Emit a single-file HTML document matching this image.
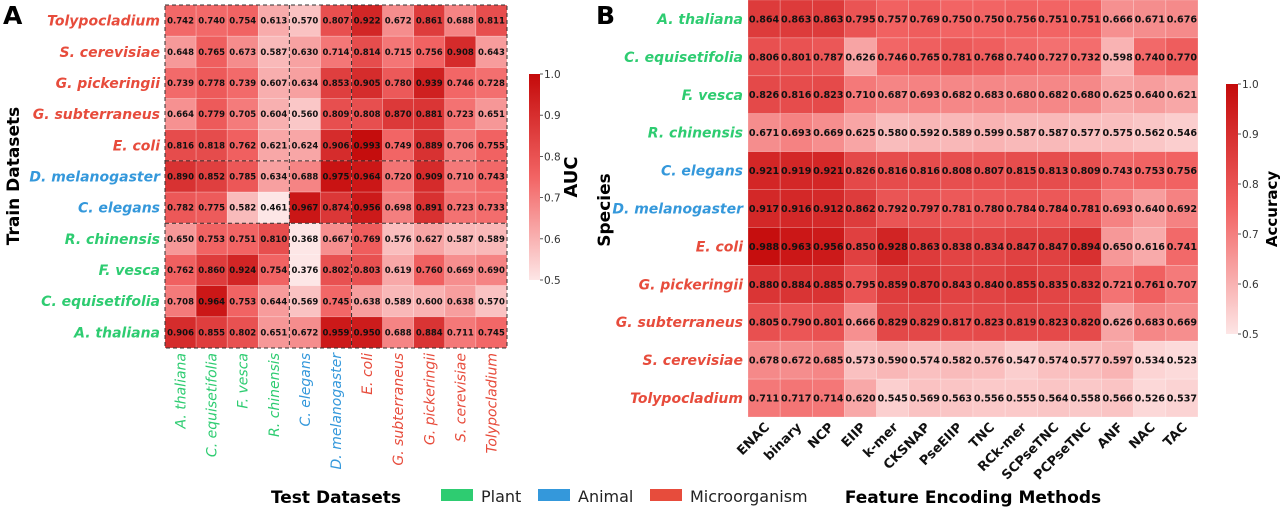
<!DOCTYPE html>
<html><head><meta charset="utf-8">
<style>
html,body{margin:0;padding:0;background:#fff;}
svg{display:block;font-family:"DejaVu Sans","Liberation Sans",sans-serif;}
</style></head>
<body>
<svg id="fig" width="1280" height="507" viewBox="0 0 1280 507" xmlns="http://www.w3.org/2000/svg">
<defs>
<linearGradient id="cmap" x1="0" y1="1" x2="0" y2="0">
<stop offset="0" stop-color="#fde6e6"/>
<stop offset="0.5" stop-color="#f26464"/>
<stop offset="1" stop-color="#c40a0a"/>
</linearGradient>
</defs>
<g id="gA"></g>
<g id="gB"></g>
<text x="3" y="24" font-size="25" font-weight="bold">A</text>
<text x="596" y="24" font-size="25" font-weight="bold">B</text>
<text transform="translate(19,176) rotate(-90)" text-anchor="middle" font-size="17" font-weight="bold">Train Datasets</text>
<text transform="translate(610,210) rotate(-90)" text-anchor="middle" font-size="17" font-weight="bold">Species</text>
<text x="336" y="503" text-anchor="middle" font-size="17" font-weight="bold">Test Datasets</text>
<text x="973" y="503" text-anchor="middle" font-size="17" font-weight="bold">Feature Encoding Methods</text>
<g>
<rect x="441" y="489" width="32" height="12" fill="#2ecc71"/>
<text x="481" y="502" font-size="16" fill="#222">Plant</text>
<rect x="538" y="489" width="32" height="12" fill="#3498db"/>
<text x="578" y="502" font-size="16" fill="#222">Animal</text>
<rect x="650" y="489" width="32" height="12" fill="#e74c3c"/>
<text x="690" y="502" font-size="16" fill="#222">Microorganism</text>
</g>
</svg>
<script>
const rowsA = ["Tolypocladium","S. cerevisiae","G. pickeringii","G. subterraneus","E. coli","D. melanogaster","C. elegans","R. chinensis","F. vesca","C. equisetifolia","A. thaliana"];
const rowGroupA = ["m","m","m","m","m","a","a","p","p","p","p"];
const colsA = ["A. thaliana","C. equisetifolia","F. vesca","R. chinensis","C. elegans","D. melanogaster","E. coli","G. subterraneus","G. pickeringii","S. cerevisiae","Tolypocladium"];
const colGroupA = ["p","p","p","p","a","a","m","m","m","m","m"];
const valuesA = [
[0.742,0.740,0.754,0.613,0.570,0.807,0.922,0.672,0.861,0.688,0.811],
[0.648,0.765,0.673,0.587,0.630,0.714,0.814,0.715,0.756,0.908,0.643],
[0.739,0.778,0.739,0.607,0.634,0.853,0.905,0.780,0.939,0.746,0.728],
[0.664,0.779,0.705,0.604,0.560,0.809,0.808,0.870,0.881,0.723,0.651],
[0.816,0.818,0.762,0.621,0.624,0.906,0.993,0.749,0.889,0.706,0.755],
[0.890,0.852,0.785,0.634,0.688,0.975,0.964,0.720,0.909,0.710,0.743],
[0.782,0.775,0.582,0.461,0.967,0.874,0.956,0.698,0.891,0.723,0.733],
[0.650,0.753,0.751,0.810,0.368,0.667,0.769,0.576,0.627,0.587,0.589],
[0.762,0.860,0.924,0.754,0.376,0.802,0.803,0.619,0.760,0.669,0.690],
[0.708,0.964,0.753,0.644,0.569,0.745,0.638,0.589,0.600,0.638,0.570],
[0.906,0.855,0.802,0.651,0.672,0.959,0.950,0.688,0.884,0.711,0.745]];
const rowsB = ["A. thaliana","C. equisetifolia","F. vesca","R. chinensis","C. elegans","D. melanogaster","E. coli","G. pickeringii","G. subterraneus","S. cerevisiae","Tolypocladium"];
const rowGroupB = ["p","p","p","p","a","a","m","m","m","m","m"];
const colsB = ["ENAC","binary","NCP","EIIP","k-mer","CKSNAP","PseEIIP","TNC","RCk-mer","SCPseTNC","PCPseTNC","ANF","NAC","TAC"];
const valuesB = [
[0.864,0.863,0.863,0.795,0.757,0.769,0.750,0.750,0.756,0.751,0.751,0.666,0.671,0.676],
[0.806,0.801,0.787,0.626,0.746,0.765,0.781,0.768,0.740,0.727,0.732,0.598,0.740,0.770],
[0.826,0.816,0.823,0.710,0.687,0.693,0.682,0.683,0.680,0.682,0.680,0.625,0.640,0.621],
[0.671,0.693,0.669,0.625,0.580,0.592,0.589,0.599,0.587,0.587,0.577,0.575,0.562,0.546],
[0.921,0.919,0.921,0.826,0.816,0.816,0.808,0.807,0.815,0.813,0.809,0.743,0.753,0.756],
[0.917,0.916,0.912,0.862,0.792,0.797,0.781,0.780,0.784,0.784,0.781,0.693,0.640,0.692],
[0.988,0.963,0.956,0.850,0.928,0.863,0.838,0.834,0.847,0.847,0.894,0.650,0.616,0.741],
[0.880,0.884,0.885,0.795,0.859,0.870,0.843,0.840,0.855,0.835,0.832,0.721,0.761,0.707],
[0.805,0.790,0.801,0.666,0.829,0.829,0.817,0.823,0.819,0.823,0.820,0.626,0.683,0.669],
[0.678,0.672,0.685,0.573,0.590,0.574,0.582,0.576,0.547,0.574,0.577,0.597,0.534,0.523],
[0.711,0.717,0.714,0.620,0.545,0.569,0.563,0.556,0.555,0.564,0.558,0.566,0.526,0.537]];
const cbarTicks = [0.5,0.6,0.7,0.8,0.9,1.0];

const NS="http://www.w3.org/2000/svg";
const gcol={p:"#2ecc71",a:"#3498db",m:"#e74c3c"};
function mk(tag,attrs,parent){const e=document.createElementNS(NS,tag);for(const k in attrs)e.setAttribute(k,attrs[k]);parent.appendChild(e);return e;}
function lerp(a,b,t){return Math.round(a+(b-a)*t);}
function color(v){
  let t=Math.max(0,Math.min(1,(v-0.5)/0.5));
  const s=[[253,230,230],[242,100,100],[196,10,10]];
  let a,b,u; if(t<0.5){a=s[0];b=s[1];u=t/0.5;}else{a=s[1];b=s[2];u=(t-0.5)/0.5;}
  return `rgb(${lerp(a[0],b[0],u)},${lerp(a[1],b[1],u)},${lerp(a[2],b[2],u)})`;
}
function heat(g,cfg){
  const {x0,y0,w,h,rows,cols,vals,fs,rgrp}=cfg;
  const cw=w/cols.length, rh=h/rows.length;
  const xs=i=>x0+i*cw, ys=j=>y0+j*rh;
  rows.forEach((r,j)=>{
    cols.forEach((c,i)=>{
      const v=vals[j][i];
      const rc=mk('rect',{x:xs(i),y:ys(j),width:cw,height:rh,fill:color(v),stroke:'rgba(255,255,255,0.35)','stroke-width':0.6},g);
      
      
      const t=mk('text',{x:xs(i)+cw/2,y:ys(j)+rh/2+fs*0.36,'text-anchor':'middle','font-size':fs,'font-weight':'bold',fill:'#111'},g);
      t.textContent=v.toFixed(3);
      
      
    });
    const lt=mk('text',{x:x0-5,y:ys(j)+rh/2+5,'text-anchor':'end','font-size':14,'font-weight':'bold','font-style':'italic',fill:gcol[rgrp[j]]},g);
    lt.textContent=r;
    
    
  });
  return {xs,ys,cw,rh};
}
function cbar(g,x,y,w,h,title,tx,fs){
  const r=mk('rect',{x:x,y:y,width:w,height:h,fill:'url(#cmap)'},g);
  
  
  cbarTicks.forEach(v=>{
    const yy=y+h-(v-0.5)/0.5*h;
    mk('line',{x1:x+w,x2:x+w+3,y1:yy,y2:yy,stroke:'#333','stroke-width':0.8},g);
    const t=mk('text',{x:x+w+4,y:yy+4,'font-size':10.5,fill:'#333'},g);
    t.textContent=v.toFixed(1);
    
    
  });
  const tt=mk('text',{transform:`translate(${tx},${y+h/2}) rotate(-90)`,'text-anchor':'middle','font-size':fs,'font-weight':'bold'},g);
  tt.textContent=title;
  
  
}
// Panel A
const gA=document.getElementById('gA');
const A=heat(gA,{x0:165,y0:5,w:342,h:343,rows:rowsA,cols:colsA,vals:valuesA,fs:8.5,rgrp:rowGroupA});
colsA.forEach((c,i)=>{
  const cx=A.xs(i)+A.cw/2+5;
  const t=mk('text',{transform:`translate(${cx},353) rotate(-90)`,'text-anchor':'end','font-size':14,'font-style':'italic',fill:gcol[colGroupA[i]]},gA);
  t.textContent=c;
  
  
});
const dash={stroke:'#333','stroke-width':1,'stroke-dasharray':'4,3',fill:'none'};
mk('rect',Object.assign({x:165,y:5,width:342,height:343},dash),gA);
[4,6].forEach(i=>mk('line',Object.assign({x1:A.xs(i),x2:A.xs(i),y1:5,y2:348},dash),gA));
[5,7].forEach(j=>mk('line',Object.assign({x1:165,x2:507,y1:A.ys(j),y2:A.ys(j)},dash),gA));
cbar(gA,529,74,11,206,'AUC',577,18);
// Panel B
const gB=document.getElementById('gB');
const B=heat(gB,{x0:748,y0:0,w:450,h:417,rows:rowsB,cols:colsB,vals:valuesB,fs:9.6,rgrp:rowGroupB});
colsB.forEach((c,i)=>{
  const cx=B.xs(i)+B.cw/2+6;
  const t=mk('text',{transform:`translate(${cx},428) rotate(-45)`,'text-anchor':'end','font-size':13,'font-weight':'bold',fill:'#111'},gB);
  t.textContent=c;
  
  
});
cbar(gB,1226,84,12,250,'Accuracy',1277,15);
</script>
</body></html>
